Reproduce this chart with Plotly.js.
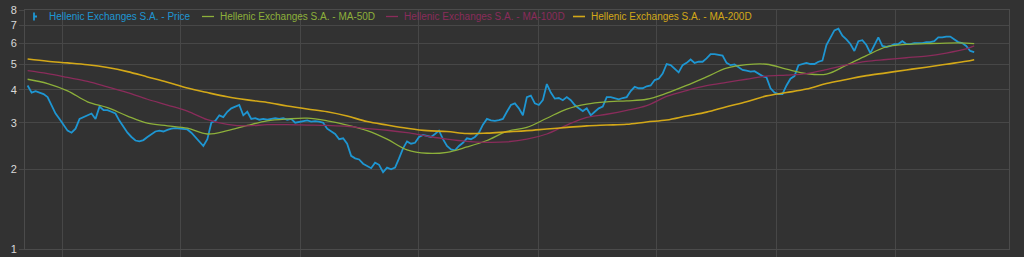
<!DOCTYPE html>
<html>
<head>
<meta charset="utf-8">
<script src="https://cdn.plot.ly/plotly-3.0.1.min.js"></script>
<style>
  html, body { margin: 0; padding: 0; background: #323232; }
  #chart { width: 1024px; height: 257px; }
</style>
</head>
<body>
<div id="chart"></div>
<script>
// ---- Data ----
const seriesNames = [
  "Hellenic Exchanges S.A. - Price",
  "Hellenic Exchanges S.A. - MA-50D",
  "Hellenic Exchanges S.A. - MA-100D",
  "Hellenic Exchanges S.A. - MA-200D"
];
const seriesColors = ["#1e96d2", "#8db03a", "#8a2c5b", "#d3a818"];

// Price (close), one value per period, in order
const price = [
  4.15, 3.9, 3.95, 3.9, 3.85, 3.75, 3.5, 3.25, 3.1, 2.95,
  2.8, 2.75, 2.85, 3.1, 3.15, 3.2, 3.25, 3.1, 3.45, 3.35,
  3.35, 3.3, 3.25, 3.05, 2.9, 2.75, 2.65, 2.57, 2.55, 2.58,
  2.65, 2.72, 2.78, 2.8, 2.78, 2.82, 2.85, 2.86, 2.85, 2.85,
  2.83, 2.75, 2.65, 2.55, 2.45, 2.6, 3.0, 3.05, 3.2, 3.15,
  3.3, 3.4, 3.45, 3.5, 3.2, 3.3, 3.1, 3.12, 3.08, 3.1,
  3.08,
  3.1, 3.12, 3.1, 3.12, 3.08, 3.1, 3.0, 3.02, 3.06, 3.06,
  3.03, 3.04, 3.03, 3.0, 2.85, 2.78, 2.72, 2.6, 2.62, 2.5,
  2.25, 2.2, 2.18, 2.1, 2.06, 2.02, 2.12, 2.08, 1.95, 2.03,
  2.0, 2.03, 2.2, 2.4, 2.55, 2.5, 2.52, 2.65, 2.7, 2.68,
  2.65, 2.72, 2.8, 2.6, 2.45, 2.38, 2.36, 2.45, 2.52, 2.62,
  2.6, 2.65, 2.75, 2.95, 3.1, 3.06, 3.05, 3.07, 3.1, 3.3,
  3.5,
  3.55, 3.4, 3.2, 3.75, 3.8, 3.55, 3.5, 3.65, 4.2, 3.9,
  3.7, 3.72, 3.65, 3.75, 3.65, 3.5, 3.4, 3.32, 3.4, 3.2,
  3.3, 3.4, 3.45, 3.75, 3.75, 3.72, 3.68, 3.72, 3.75, 3.95,
  4.1, 4.05, 4.05, 4.12, 4.15, 4.35, 4.4, 4.6, 5.0, 4.95,
  4.8, 4.65, 4.95, 5.05, 5.2, 5.05, 5.1, 5.1, 5.25, 5.45,
  5.45, 5.42, 5.38, 5.05, 4.95, 4.98, 4.85, 4.75, 4.72, 4.68,
  4.7,
  4.6, 4.5, 4.45, 4.05, 3.9, 3.85, 3.85, 4.15, 4.4, 4.5,
  4.95, 5.0, 5.05, 5.0, 5.0, 5.1, 5.15, 5.9, 6.3, 6.7,
  6.8, 6.4, 6.2, 5.95, 5.6, 6.1, 6.15, 5.9, 5.5, 5.9,
  6.3, 5.85, 5.8, 5.85, 5.95, 5.95, 6.1, 5.95, 5.95, 6.0,
  6.0, 6.0, 6.05, 6.05, 6.1, 6.3, 6.3, 6.35, 6.35, 6.2,
  6.05, 6.0, 5.85, 5.6, 5.55
];

// Moving averages, sampled every 5th price period (last one at the final period)
const ma50 = [
  4.38, 4.22, 3.96, 3.6, 3.42, 3.18, 2.99, 2.92, 2.86, 2.72,
  2.8, 2.93, 3.05, 3.1, 3.12, 3.05, 2.94, 2.8, 2.6, 2.37,
  2.3, 2.32, 2.43, 2.57, 2.78, 2.88, 3.12, 3.38, 3.53, 3.6,
  3.63, 3.68, 3.88, 4.15, 4.47, 4.82, 4.97, 4.99, 4.78, 4.6,
  4.58, 4.95, 5.38, 5.8, 5.93, 5.97, 6.0, 6.0, 5.97
];
const ma100 = [
  4.72, 4.6, 4.45, 4.3, 4.1, 3.9, 3.68, 3.5, 3.32, 3.08,
  2.96, 2.92, 2.95, 2.95, 2.94, 2.93, 2.91, 2.85, 2.81, 2.75,
  2.67, 2.6, 2.55, 2.53, 2.54, 2.6, 2.72, 2.94, 3.14, 3.23,
  3.34, 3.48, 3.77, 3.97, 4.14, 4.26, 4.38, 4.5, 4.54, 4.6,
  4.76, 4.96, 5.12, 5.2, 5.28, 5.36, 5.5, 5.7, 5.85
];
const ma200 = [
  5.22, 5.12, 5.05, 4.97, 4.85, 4.68, 4.47, 4.27, 4.06, 3.9,
  3.76, 3.66, 3.58, 3.47, 3.38, 3.3, 3.18, 3.03, 2.94, 2.86,
  2.8, 2.78, 2.73, 2.74, 2.77, 2.8, 2.84, 2.88, 2.92, 2.94,
  2.96, 3.02, 3.07, 3.18, 3.29, 3.45, 3.6, 3.79, 3.9, 4.02,
  4.22, 4.37, 4.52, 4.63, 4.75, 4.86, 4.99, 5.12, 5.19
];

const yTickVals = [1, 2, 3, 4, 5, 6, 7, 8];
const yTickText = ["1", "2", "3", "4", "5", "6", "7", "8"];

// ---- Time axis ----
const START_MS = Date.UTC(2020, 10, 8);
const STEP_MS = 147 * 3600 * 1000; // one period
function dateAt(k) {
  return new Date(START_MS + k * STEP_MS).toISOString().slice(0, 16).replace('T', ' ');
}
const priceDates = price.map((_, k) => dateAt(k));
const maDates = ma50.map((_, j) => dateAt(j < ma50.length - 1 ? j * 5 : price.length - 1));

function label(i) {
  return '<span style="color:' + seriesColors[i] + '">' + seriesNames[i] + '</span>';
}

const traces = [
  { type: 'scatter', mode: 'lines', x: priceDates, y: price, name: label(0),
    line: { color: seriesColors[0], width: 1.8 } },
  { type: 'scatter', mode: 'lines', x: maDates, y: ma50, name: label(1),
    line: { color: seriesColors[1], width: 1.3, shape: 'spline' } },
  { type: 'scatter', mode: 'lines', x: maDates, y: ma100, name: label(2),
    line: { color: seriesColors[2], width: 1.3, shape: 'spline' } },
  { type: 'scatter', mode: 'lines', x: maDates, y: ma200, name: label(3),
    line: { color: seriesColors[3], width: 1.6, shape: 'spline' } }
];

const gridCol = '#474747';
const layout = {
  width: 1024, height: 257,
  margin: { l: 25, r: 15, t: 10, b: 8, pad: 0 },
  paper_bgcolor: '#323232', plot_bgcolor: '#323232',
  font: { family: 'Liberation Sans, Arial, sans-serif', color: '#d9d9d9' },
  showlegend: true,
  legend: {
    orientation: 'h', x: 0.005, y: 1, xanchor: 'left', yanchor: 'top',
    bgcolor: 'rgba(0,0,0,0)', font: { size: 10 }, itemwidth: 30,
    tracegroupgap: 0
  },
  xaxis: {
    type: 'date', range: ['2020-11-04', '2024-12-22'], autorange: false,
    tick0: '2021-01-01', dtick: 'M6',
    showgrid: true, gridcolor: gridCol, gridwidth: 1,
    showline: true, mirror: true, linecolor: '#4b4b4b', linewidth: 1,
    ticks: 'outside', ticklen: 8, tickcolor: gridCol,
    showticklabels: false, zeroline: false, fixedrange: true
  },
  yaxis: {
    type: 'log', range: [0, Math.log10(8)], autorange: false,
    tickmode: 'array', tickvals: yTickVals, ticktext: yTickText,
    tickfont: { size: 11, color: '#d9d9d9' },
    showgrid: true, gridcolor: gridCol, gridwidth: 1,
    showline: true, mirror: true, linecolor: '#4b4b4b', linewidth: 1,
    ticks: 'outside', ticklen: 5, tickcolor: gridCol,
    zeroline: false, fixedrange: true
  }
};

// Compact legend layout like the reference (short symbols, tight spacing)
const legendTextLeft = [49, 220, 404, 591];
const legendRowCenterY = 16.5;

function parseTranslate(el) {
  const m = /translate\(\s*([-\d.eE]+)[\s,]+([-\d.eE]+)\s*\)/.exec(el.getAttribute('transform') || '');
  return m ? [parseFloat(m[1]), parseFloat(m[2])] : [0, 0];
}

Plotly.newPlot('chart', traces, layout, { displayModeBar: false, staticPlot: true }).then(function (gd) {
  const legend = gd.querySelector('g.legend');
  if (!legend) return;
  const lt = parseTranslate(legend);
  const sb = legend.querySelector('g.scrollbox');
  const st = sb ? parseTranslate(sb) : [0, 0];
  const items = legend.querySelectorAll('g.traces');
  items.forEach(function (g, i) {
    if (i >= legendTextLeft.length) return;
    const originX = legendTextLeft[i] - 20;
    g.setAttribute('transform', 'translate(' + (originX - lt[0] - st[0]) + ',' + (legendRowCenterY - lt[1] - st[1]) + ')');
    const txt = g.querySelector('text.legendtext');
    if (txt) txt.setAttribute('x', 20);
    const path = g.querySelector('.legendlines path');
    if (path) path.setAttribute('d', i === 0 ? 'M5,-4v8M5,0h3' : 'M2,0h12');
  });
});
</script>
</body>
</html>
